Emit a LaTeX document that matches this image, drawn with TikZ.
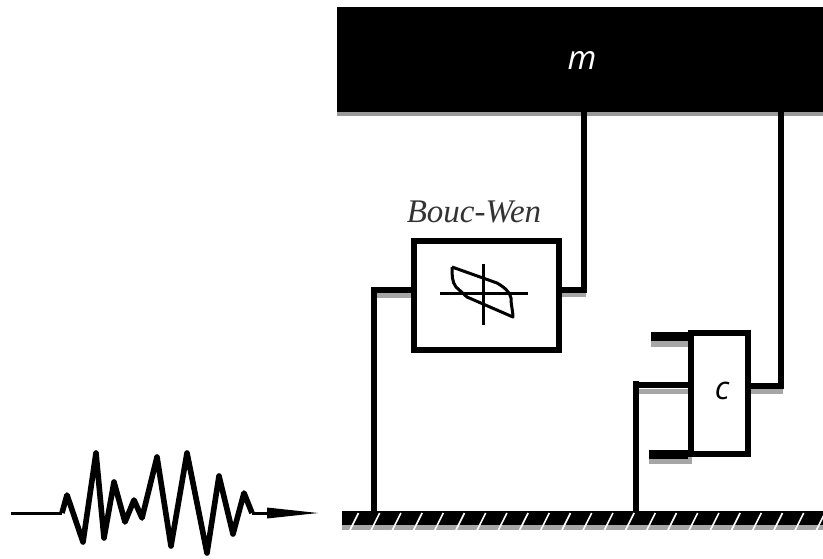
\documentclass[tikz,border=0pt]{standalone}
\usepackage{fontspec}
\setmainfont{Liberation Serif}
\setsansfont{Open Sans}
\begin{document}
\begin{tikzpicture}[x=1pt,y=-1pt,
  wire/.style={line width=5.5pt,black,line cap=butt,line join=miter},
  shade/.style={line width=5pt,black!35},
  plate/.style={line width=9pt,black},
  plateshade/.style={line width=9pt,black!35},
  blockbox/.style={draw=black,fill=white,line width=5.5pt,inner sep=0pt},
  solid block/.style={fill=black,inner sep=0pt},
  hatch/.style={white,line width=1.6pt},
  wave/.style={black,line width=5.6pt,line join=round},
  thinline/.style={black,line width=3pt},
  loopline/.style={black,line width=3pt,line join=round}]
\useasboundingbox (0,0) rectangle (823,558);
\fill[white] (0,0) rectangle (823,558);
% shadows
\fill[black!40] (337,20) rectangle (823,116);
\fill[black!35] (342,520) rectangle (823,530);
\draw[shade] (374,295) -- (412,295);
\draw[shade] (561,294) -- (586,294);
\draw[shade] (638,391) -- (688,391);
\draw[shade] (751,391) -- (783,391);
\draw[plateshade] (651,342) -- (690,342);
\draw[plateshade] (649,459) -- (692,459);
% blocks
\node[solid block,anchor=north west,minimum width=486pt,minimum height=105pt] (mass) at (337,7) {};
\node[solid block,anchor=north west,minimum width=481pt,minimum height=14pt] (ground) at (342,511) {};
\node[font=\sffamily\itshape\fontsize{33}{33}\selectfont,white] (mlabel) at (582,61) {m};
% hatches
\foreach \i in {0,...,22}{
  \draw[hatch] (350+21.2*\i,530) -- (358.5+21.2*\i,513);
}
% Bouc-Wen element
\node[blockbox,anchor=north west,minimum width=145pt,minimum height=109pt] (bw) at (411,238) {};
\node[font=\itshape\fontsize{33}{33}\selectfont,text=black!80] (bwlabel) at (474,212) {Bouc-Wen};
\coordinate (bwleft) at (374,290);
\coordinate (bwright) at (584,290);
\draw[wire] (ground.north -| bwleft) -- (bwleft) -- (bw.west |- bwleft);
\draw[wire] (bw.east |- bwright) -- (bwright) -- (bwright |- mass.south);
% hysteresis symbol
\coordinate (hl) at (440,293); \coordinate (hr) at (528,293);
\coordinate (ht) at (483,264); \coordinate (hb) at (483,325);
\draw[thinline] (hl) -- (hr);
\draw[thinline] (ht) -- (hb);
\draw[loopline] (452,267) -- (497,283) .. controls (504,287) and (510,292) .. (511,298) .. controls (511,306) and (513,311) .. (513,317) -- (467,297) -- (456,287) .. controls (452,282) and (452,275) .. (452,267);
% damper
\node[blockbox,line width=6pt,anchor=north west,minimum width=57pt,minimum height=121pt] (damper) at (688,330) {};
\node[font=\sffamily\itshape\fontsize{32}{32}\selectfont] (clabel) at (722,391) {c};
\coordinate (dl) at (636,385);
\coordinate (dr) at (781,386);
\coordinate (pt) at (651,336);
\coordinate (pb) at (649,454);
\draw[plate] (pt) -- (pt -| damper.west);
\draw[plate] (pb) -- (pb -| damper.west);
\draw[wire] (ground.north -| dl) -- (636,381);
\draw[wire] (dl) -- (damper.west |- dl);
\draw[wire] (damper.east |- dr) -- (dr) -- (dr |- mass.south);
% excitation
\coordinate (w0) at (11,513);
\coordinate (w1) at (62,513);
\coordinate (w2) at (252,513);
\coordinate (tip) at (318,513);
\draw[thinline] (w0) -- (w1);
\draw[wave] (w1) -- (67,495) -- (83,542) -- (96,453) -- (104,538) -- (114,482) -- (125,522) -- (134,500) -- (142,518) -- (157,457) -- (171,546) -- (187,453) -- (207,553) -- (219,476) -- (233,534) -- (244,493) -- (w2);
\draw[thinline] (w2) -- (268,513);
\fill[black] (267,507.5) -- (tip) -- (267,518.5) -- cycle;
\end{tikzpicture}
\end{document}
